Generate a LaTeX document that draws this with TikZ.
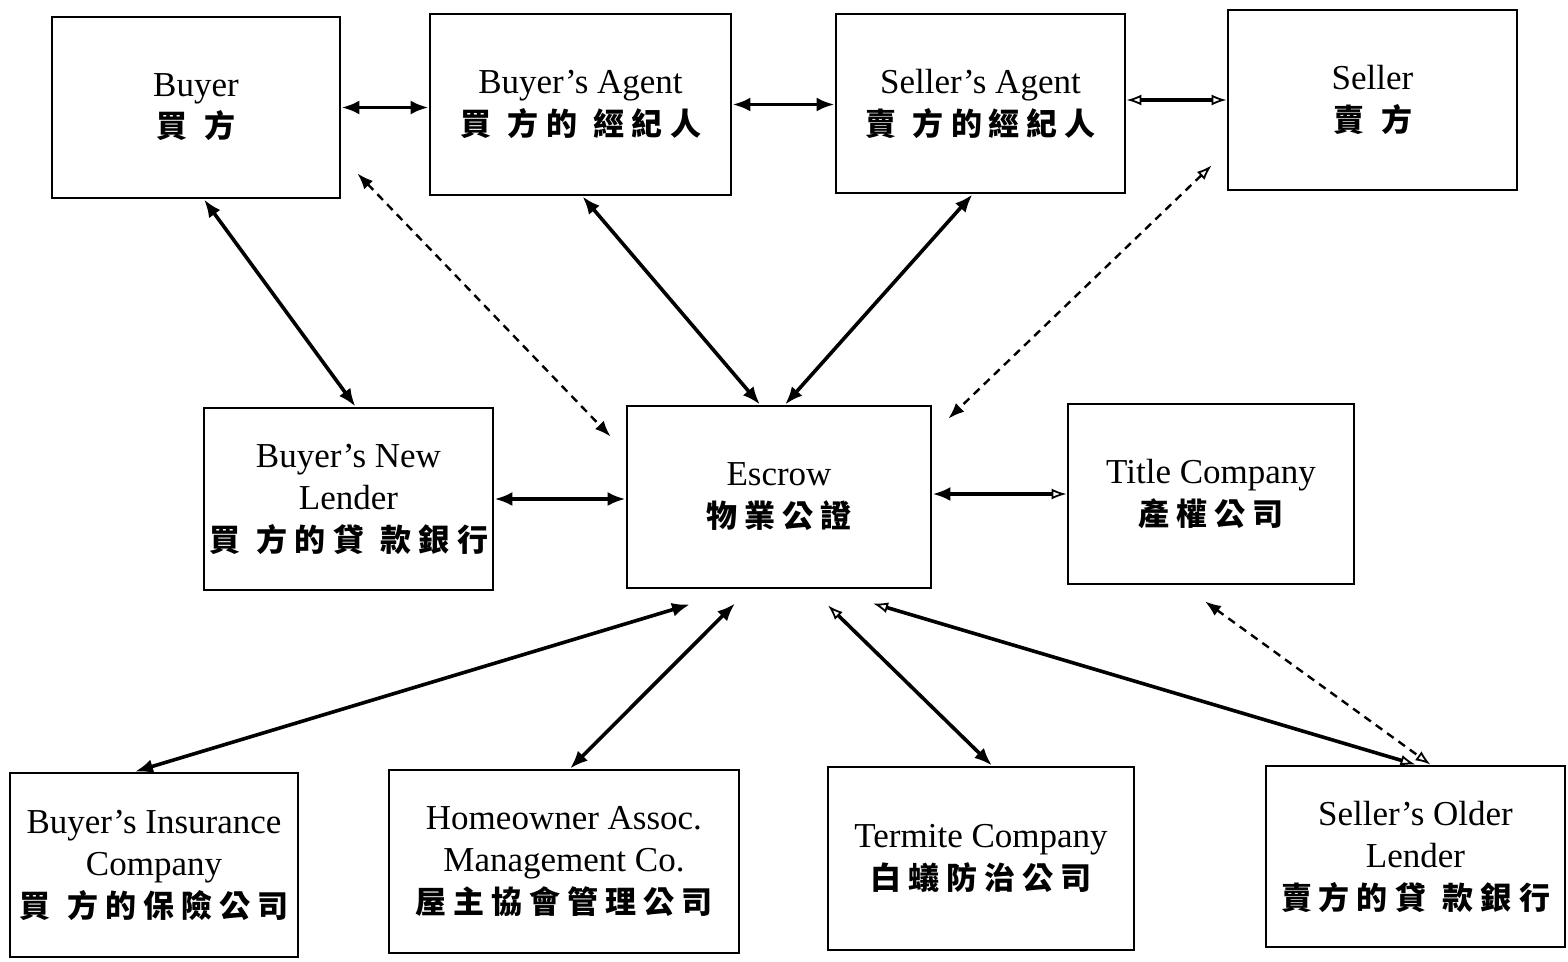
\documentclass[tikz,border=0pt]{standalone}
\usepackage{fontspec}
\setmainfont{Liberation Serif}
\newfontfamily\cjk{Noto Sans CJK TC}
\usetikzlibrary{arrows.meta}
\newcommand\zg{\hspace{7pt}}
\newcommand\zG{\hspace{17pt}}
\newcommand\zh[1]{{\cjk\bfseries\fontsize{31}{42}\selectfont #1}}
\begin{document}
\begin{tikzpicture}[x=1pt,y=-1pt,
  box/.style={draw, line width=2.8pt, align=center, inner sep=0pt, font=\fontsize{35}{42}\selectfont},
  fh/.tip={Latex[length=18pt,width=14pt]},
  oh/.tip={Latex[open,length=15pt,width=11pt,line width=1.8pt]},
  dh/.tip={Latex[length=16pt,width=12pt]},
  conn/.style={line width=3.6pt},
  dconn/.style={line width=2.4pt, dash pattern=on 8pt off 6pt},
  ff/.style={conn, {fh}-{fh}},
  oo/.style={conn, {oh}-{oh}},
  fo/.style={conn, {fh}-{oh}},
  of/.style={conn, {oh}-{fh}},
  dff/.style={dconn, {dh}-{dh}},
  dof/.style={dconn, {oh}-{dh}},
  dfo/.style={dconn, {dh}-{oh}}]
\useasboundingbox (0,0) rectangle (1568,961);
% top row
\node[box, minimum width=288pt, minimum height=181pt] (buyer) at (196,107.5)
  {\raisebox{-5pt}{Buyer}\\\raisebox{-4pt}{\zh{買\zG 方}}};
\node[box, minimum width=301pt, minimum height=181pt] (bagent) at (580.5,104.5)
  {Buyer’s Agent\\\zh{買\zG 方\zg 的\zG 經\zg 紀\zg 人}};
\node[box, minimum width=289pt, minimum height=179pt] (sagent) at (980.5,103.5)
  {Seller’s Agent\\\zh{賣\zG 方\zg 的\zg 經\zg 紀\zg 人}};
\node[box, minimum width=289pt, minimum height=180pt] (seller) at (1372.5,100)
  {\raisebox{-4pt}{Seller}\\\raisebox{-4pt}{\zh{賣\zG 方}}};
% middle row
\node[box, minimum width=289pt, minimum height=182pt] (bnl) at (348.5,499)
  {Buyer’s New\\Lender\\\zh{買\zG 方\zg 的\zg 貸\zG 款\zg 銀\zg 行}};
\node[box, minimum width=304pt, minimum height=182pt] (escrow) at (779,497)
  {Escrow\\\zh{物\zg 業\zg 公\zg 證}};
\node[box, minimum width=286pt, minimum height=180pt] (title) at (1211,494)
  {Title Company\\\zh{產\zg 權\zg 公\zg 司}};
% bottom row
\node[box, minimum width=288pt, minimum height=184pt] (ins) at (154,865)
  {Buyer’s Insurance\\Company\\\zh{買\zG 方\zg 的\zg 保\zg 險\zg 公\zg 司}};
\node[box, minimum width=350pt, minimum height=183pt] (hoa) at (564,861.5)
  {Homeowner Assoc.\\Management Co.\\\zh{屋\zg 主\zg 協\zg 會\zg 管\zg 理\zg 公\zg 司}};
\node[box, minimum width=306pt, minimum height=183pt] (termite) at (981,858.5)
  {Termite Company\\\zh{白\zg 蟻\zg 防\zg 治\zg 公\zg 司}};
\node[box, minimum width=299pt, minimum height=181pt] (older) at (1415.5,856.5)
  {Seller’s Older\\Lender\\\zh{賣\zg 方\zg 的\zg 貸\zG 款\zg 銀\zg 行}};
% connectors
\draw[ff] (buyer.east) -- (buyer.east -| bagent.west);
\draw[ff] (bagent.east) -- (bagent.east -| sagent.west);
\draw[oo] (seller.west -| sagent.east) -- (seller.west);
\draw[ff] ([xshift=8pt]buyer.south) -- ([xshift=7pt]bnl.north);
\draw[dff] ([xshift=16pt,yshift=26pt]buyer.south east) -- ([xshift=-15pt,yshift=-32pt]escrow.north west);
\draw[ff] ([xshift=2pt]bagent.south) -- ([xshift=-19pt]escrow.north);
\draw[ff] ([xshift=-8pt]sagent.south) -- ([xshift=6pt]escrow.north);
\draw[dof] ([xshift=-15pt,yshift=26pt]seller.south west) -- ([xshift=16pt,yshift=-14pt]escrow.north east);
\draw[ff] (bnl.east) -- (bnl.east -| escrow.west);
\draw[fo] (escrow.east |- title.west) -- (title.west);
\draw[ff] ([xshift=-89pt,yshift=-15pt]escrow.south) -- ([xshift=-19pt]ins.north);
\draw[ff] ([xshift=-44pt,yshift=-14pt]escrow.south) -- ([xshift=6pt]hoa.north);
\draw[of] ([xshift=49pt,yshift=-16pt]escrow.south) -- ([xshift=11pt]termite.north);
\draw[oo] ([xshift=94pt,yshift=-14pt]escrow.south) -- (older.north);
\draw[dfo] ([xshift=-6pt,yshift=-16pt]title.south) -- ([xshift=15pt]older.north);
\end{tikzpicture}
\end{document}
